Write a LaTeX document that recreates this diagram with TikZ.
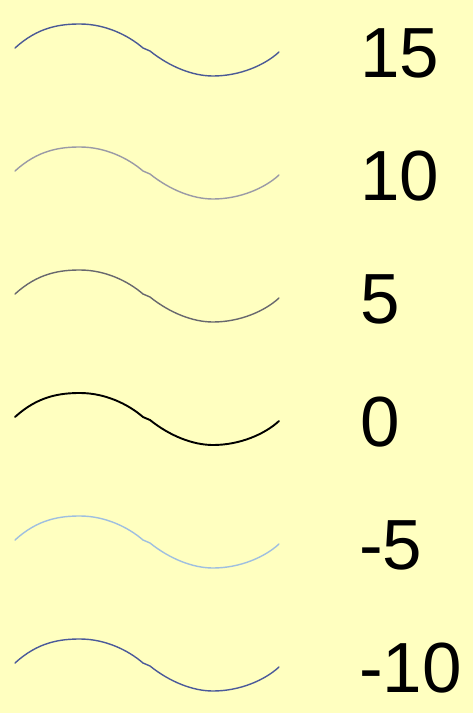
\documentclass[tikz,border=0pt]{standalone}
\usepackage{fontspec}
\setmainfont{Liberation Sans}
\definecolor{bg}{HTML}{FFFFC0}
\definecolor{cA}{HTML}{4B5A96}
\definecolor{cB}{HTML}{9A9AA6}
\definecolor{cC}{HTML}{68686E}
\definecolor{cD}{HTML}{000000}
\definecolor{cE}{HTML}{9FBFE0}
\definecolor{cF}{HTML}{4B5A9A}
\tikzset{
  wave/.style={line width=1.4pt, line cap=round, line join=round},
  lbl/.style={anchor=base west, inner sep=0pt, font=\fontsize{71}{71}\selectfont, text=black},
}
\newcommand{\wavepath}[1]{%
  \draw[wave, #1] (15,0) .. controls (38,-21) and (60,-24) .. (80,-24)
    .. controls (105,-24) and (128,-13) .. (143,0)
    -- (150,3)
    .. controls (170,19) and (193,28) .. (213,28)
    .. controls (240,28) and (265,17) .. (279,4);}
\begin{document}
\begin{tikzpicture}[x=1pt,y=-1pt]
  \fill[bg] (0,0) rectangle (473,713);
  \useasboundingbox (0,0) rectangle (473,713);
  \begin{scope}[shift={(0,48)}]\wavepath{cA}\end{scope}
  \begin{scope}[shift={(0,171)}]\wavepath{cB}\end{scope}
  \begin{scope}[shift={(0,294)}]\wavepath{cC}\end{scope}
  \begin{scope}[shift={(0,417)}]\wavepath{cD, line width=1.9pt}\end{scope}
  \begin{scope}[shift={(0,540)}]\wavepath{cE}\end{scope}
  \begin{scope}[shift={(0,663)}]\wavepath{cF}\end{scope}
  \node[lbl] (l15) at (360,77) {15};
  \node[lbl] (l10) at (360,200) {10};
  \node[lbl] (l5) at (360,323) {5};
  \node[lbl] (l0) at (360,446) {0};
  \node[lbl] (lm5) at (359,569) {-5};
  \node[lbl] (lm10) at (359,692) {-10};
\end{tikzpicture}
\end{document}
